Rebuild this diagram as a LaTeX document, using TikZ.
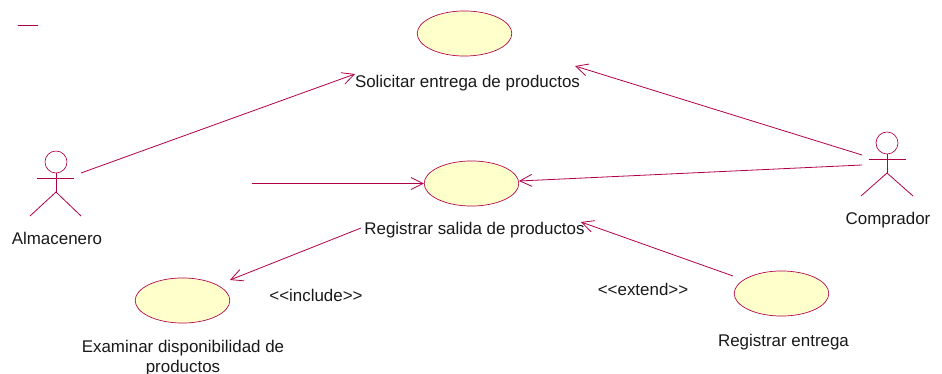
\documentclass[tikz,border=0pt]{standalone}
\usepackage{fontspec}
\setmainfont{Liberation Sans}
\usetikzlibrary{shapes.geometric,arrows.meta}
\definecolor{roseline}{RGB}{176,0,72}
\definecolor{rosefill}{RGB}{255,255,204}
\tikzset{
  usecase/.style={draw=roseline,fill=rosefill,ellipse,line width=0.5pt,inner sep=0pt,minimum width=71pt,minimum height=33.8pt},
  head/.style={draw=roseline,circle,line width=0.5pt,inner sep=0pt,minimum size=16.5pt},
  limb/.style={draw=roseline,line width=0.6pt},
  assoc/.style={draw=roseline,line width=0.6pt,-{Straight Barb[length=9pt,width=9pt]}},
  lbl/.style={font=\fontsize{12.7}{15}\selectfont,text=black!90,inner sep=0pt,align=center}
}
\begin{document}
\begin{tikzpicture}[x=0.75pt,y=0.75pt,yscale=-1,xscale=1]
\useasboundingbox (0,0) rectangle (942,374);

%Use cases
\node [usecase] (solicitar) at (464.5,33.5) {};
\node [usecase] (salida) at (471.5,183.5) {};
\node [usecase] (examinar) at (182.5,300.5) {};
\node [usecase] (entrega) at (781.5,293.5) {};

%Actor Almacenero
\node [head] (almaceneroHead) at (56,162) {};
\coordinate (almaceneroHip) at (56,192);
\coordinate (almaceneroArmL) at (37,178);
\coordinate (almaceneroArmR) at (74,178);
\coordinate (almaceneroLegL) at (30,216);
\coordinate (almaceneroLegR) at (81,216);
\draw [limb] (almaceneroHead) -- (almaceneroHip);
\draw [limb] (almaceneroArmL) -- (almaceneroArmR);
\draw [limb] (almaceneroLegL) -- (almaceneroHip) -- (almaceneroLegR);

%Actor Comprador
\node [head] (compradorHead) at (887,143) {};
\coordinate (compradorHip) at (887,173);
\coordinate (compradorArmL) at (868.5,159);
\coordinate (compradorArmR) at (905.5,159);
\coordinate (compradorLegL) at (861,196);
\coordinate (compradorLegR) at (913,196);
\draw [limb] (compradorHead) -- (compradorHip);
\draw [limb] (compradorArmL) -- (compradorArmR);
\draw [limb] (compradorLegL) -- (compradorHip) -- (compradorLegR);

%Labels
\node [lbl] (solicitarLbl) at (467.5,83) {Solicitar entrega de productos};
\node [lbl] (salidaLbl) at (474.5,230.5) {Registrar salida de productos};
\node [lbl] (examinarLbl) at (183,358) {Examinar disponibilidad de\\productos};
\node [lbl] (entregaLbl) at (783.5,342) {Registrar entrega};
\node [lbl] (almaceneroLbl) at (57,238) {Almacenero};
\node [lbl] (compradorLbl) at (888,220.5) {Comprador};
\node [lbl] (includeLbl) at (316,295) {<{}<include>{}>};
\node [lbl] (extendLbl) at (643,289) {<{}<extend>{}>};

%Free ends of the connectors
\coordinate (almaceneroOut) at (81,173);
\coordinate (almaceneroOutB) at (252,183.5);
\coordinate (compradorOut) at (862,155);
\coordinate (compradorOutB) at (862,165);
\coordinate (solicitarInA) at (355,74);
\coordinate (solicitarInB) at (575,66);
\coordinate (salidaIn) at (519,181);
\coordinate (salidaLblIn) at (581,222);
\coordinate (salidaLblOut) at (361,228);
\coordinate (examinarIn) at (230,280);
\coordinate (entregaOut) at (733,276);
\coordinate (stubL) at (18,25);
\coordinate (stubR) at (38,25);

%Connectors
\draw [assoc] (almaceneroOut) -- (solicitarInA);
\draw [assoc] (almaceneroOutB) -- (salida.west);
\draw [assoc] (compradorOut) -- (solicitarInB);
\draw [assoc] (compradorOutB) -- (salidaIn);
\draw [assoc] (salidaLblOut) -- (examinarIn);
\draw [assoc] (entregaOut) -- (salidaLblIn);
\draw [limb] (stubL) -- (stubR);

\end{tikzpicture}
\end{document}
